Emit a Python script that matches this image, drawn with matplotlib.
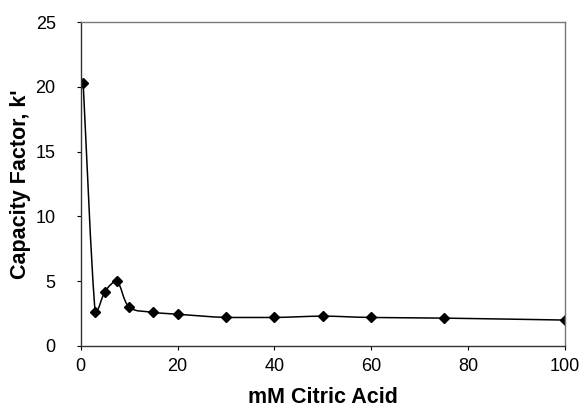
import numpy as np
import matplotlib
matplotlib.use("Agg")
import matplotlib.pyplot as plt
from matplotlib.path import Path
from matplotlib.patches import PathPatch

plt.rcParams['font.family'] = ['Liberation Sans', 'DejaVu Sans']

# data
citric_mm = [0.5, 3, 5, 7.5, 10, 15, 20, 30, 40, 50, 60, 75, 100]
capacity_k = [20.3, 2.6, 4.2, 5.0, 3.0, 2.6, 2.45, 2.2, 2.2, 2.3, 2.2, 2.15, 2.0]


def smooth_path(xs, ys):
  # Excel-style smoothed line: cubic Bezier through each point,
  # control points kept inside each segment's y range (no overshoot)
  pts = np.column_stack([xs, ys]).astype(float)
  verts = [pts[0]]
  codes = [Path.MOVETO]
  n = len(pts)
  for i in range(n - 1):
    p0 = pts[max(i - 1, 0)]
    p1 = pts[i]
    p2 = pts[i + 1]
    p3 = pts[min(i + 2, n - 1)]
    c1 = p1 + (p2 - p0) / 6.0
    c2 = p2 - (p3 - p1) / 6.0
    lo, hi = min(p1[1], p2[1]), max(p1[1], p2[1])
    c1[1] = np.clip(c1[1], lo, hi)
    c2[1] = np.clip(c2[1], lo, hi)
    verts += [c1, c2, p2]
    codes += [Path.CURVE4] * 3
  return Path(verts, codes)


fig, ax = plt.subplots(figsize=(5.85, 4.08), dpi=100)
fig.subplots_adjust(left=0.138, right=0.966, top=0.946, bottom=0.152)

ax.add_patch(PathPatch(smooth_path(citric_mm, capacity_k), facecolor='none',
                       edgecolor='black', lw=1.1))
ax.plot(citric_mm, capacity_k, linestyle='none', marker='D', markersize=5.5,
        color='black')

ax.set_xlim(0, 100)
ax.set_ylim(0, 25)
ax.set_xticks(range(0, 101, 20))
ax.set_yticks(range(0, 26, 5))
ax.tick_params(direction='out', length=3, width=0.8, labelsize=13)
ax.tick_params(axis='x', pad=6)
ax.tick_params(axis='y', pad=15)

for side in ['top', 'right']:
  ax.spines[side].set_color('#777777')
  ax.spines[side].set_linewidth(1.0)
for side in ['left', 'bottom']:
  ax.spines[side].set_color('#333333')
  ax.spines[side].set_linewidth(1.0)

ax.set_xlabel('mM Citric Acid', fontsize=15.5, fontweight='bold', labelpad=8)
ax.set_ylabel("Capacity Factor, k'", fontsize=15.5, fontweight='bold', labelpad=3)

fig.savefig('out.png', dpi=100)
